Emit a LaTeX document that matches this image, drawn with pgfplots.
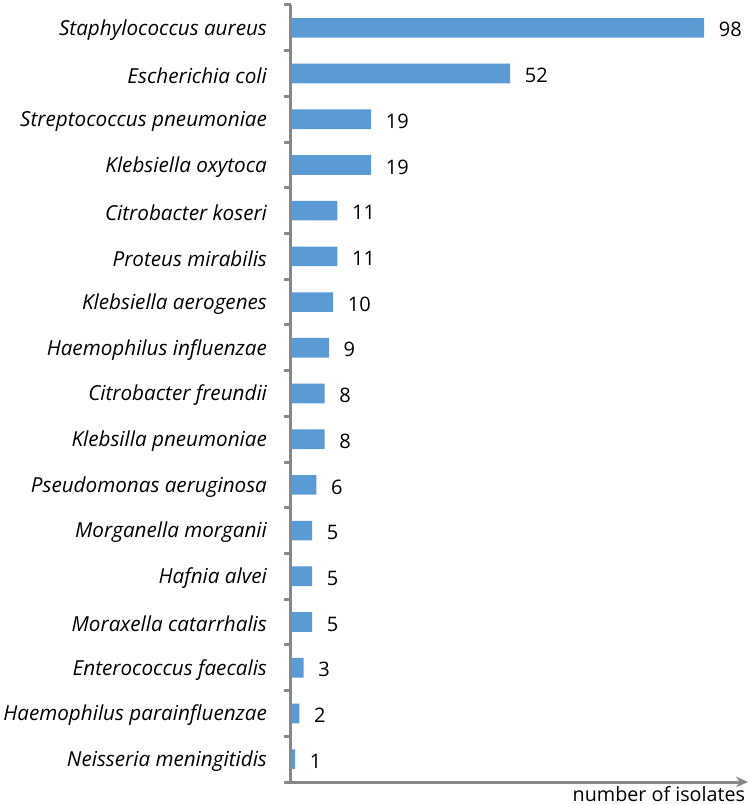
\documentclass[border=0pt]{standalone}
\usepackage{fontspec}
\setmainfont{Open Sans}
\usepackage{pgfplots}
\pgfplotsset{compat=1.18}
\usetikzlibrary{arrows.meta}
\definecolor{barblue}{HTML}{5B9BD5}
\definecolor{axisgray}{HTML}{878787}

\pgfplotstableread{
y n
0 1
1 2
2 3
3 5
4 5
5 5
6 6
7 8
8 8
9 9
10 10
11 11
12 11
13 19
14 19
15 52
16 98
}\isolates

\begin{document}
\begin{tikzpicture}
\begin{axis}[
    scale only axis,
    width=342.75pt,
    height=582.75pt,
    xbar,
    bar width=0.43,
    xmin=0, xmax=108.4,
    ymin=-0.5, ymax=16.5,
    enlargelimits=false,
    clip=false,
    axis x line*=bottom,
    axis y line*=left,
    axis line style={axisgray, line width=2.25pt},
    x axis line style={-{Stealth[length=9pt,width=8pt]}},
    xtick=\empty,
    ytick={0,...,16},
    yticklabels={
        Neisseria meningitidis,
        Haemophilus parainfluenzae,
        Enterococcus faecalis,
        Moraxella catarrhalis,
        Hafnia alvei,
        Morganella morganii,
        Pseudomonas aeruginosa,
        Klebsilla pneumoniae,
        Citrobacter freundii,
        Haemophilus influenzae,
        Klebsiella aerogenes,
        Proteus mirabilis,
        Citrobacter koseri,
        Klebsiella oxytoca,
        Streptococcus pneumoniae,
        Escherichia coli,
        Staphylococcus aureus},
    major tick length=0pt,
    minor ytick={-0.5,0.5,...,16.5},
    minor tick length=5pt,
    ytick align=outside,
    minor tick style={axisgray, line width=2.25pt},
    y tick label style={font=\fontsize{15.5}{18}\selectfont\itshape, anchor=east, xshift=-14.5pt, yshift=-1.5pt},
    /pgf/number format/assume math mode=true,
    nodes near coords,
    nodes near coords style={font=\fontsize{15}{18}\selectfont, anchor=west, xshift=7.5pt, yshift=-1.5pt, black},
]
\addplot[fill=barblue, draw=none] table[x=n, y=y] {\isolates};
\coordinate (BL) at (rel axis cs:0,0);
\coordinate (TR) at (rel axis cs:1,1);
\node[anchor=north east, inner sep=0pt, font=\fontsize{14.8}{17}\selectfont] at ([xshift=-2pt,yshift=-3pt]rel axis cs:1,0) {number of isolates};
\end{axis}
\pgfresetboundingbox
\path ([xshift=-218.25pt,yshift=-17.25pt]BL) rectangle ([xshift=5.25pt,yshift=3.75pt]TR);
\end{tikzpicture}
\end{document}
